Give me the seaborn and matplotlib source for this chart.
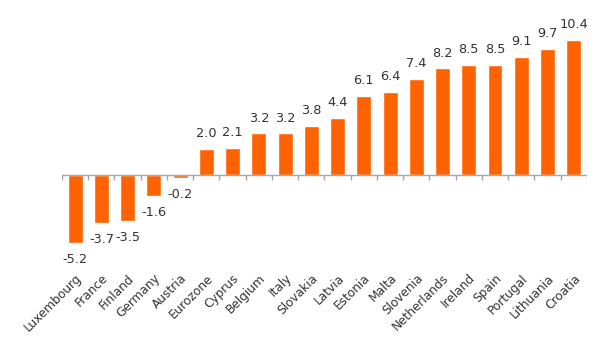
import matplotlib
matplotlib.use("Agg")
import matplotlib.pyplot as plt
import seaborn as sns
import numpy as np
import pandas as pd

countries = ["Luxembourg", "France", "Finland", "Germany", "Austria", "Eurozone",
             "Cyprus", "Belgium", "Italy", "Slovakia", "Latvia", "Estonia", "Malta",
             "Slovenia", "Netherlands", "Ireland", "Spain", "Portugal", "Lithuania",
             "Croatia"]
values = [-5.2, -3.7, -3.5, -1.6, -0.2, 2.0, 2.1, 3.2, 3.2, 3.8, 4.4, 6.1, 6.4,
          7.4, 8.2, 8.5, 8.5, 9.1, 9.7, 10.4]

sns.set_theme(style="white")
plt.rcParams['font.family'] = ['DejaVu Sans']

df = pd.DataFrame({"country": countries, "value": values})

fig = plt.figure(figsize=(6.05, 3.46), dpi=100)
ax = fig.add_axes([0.1025, 0.231, 0.8675, 0.695])

sns.barplot(data=df, x="country", y="value", color="#FF6200", saturation=1,
            width=0.57, ax=ax)

ax.set_xlim(-0.5, len(countries) - 0.5)
ax.set_ylim(-7, 11.5)
for s in ax.spines.values():
    s.set_visible(False)
ax.set_yticks([])
ax.set_xlabel("")
ax.set_ylabel("")

ax.axhline(0, color="#A6A6A6", lw=1.0, zorder=3)
ax.vlines(np.arange(-0.5, len(countries)), -0.35, 0, color="#A6A6A6", lw=1.0, zorder=3)

ax.tick_params(axis="x", length=0, pad=4)
ax.set_xticks(range(len(countries)))
ax.set_xticklabels(countries, rotation=45, ha="right", rotation_mode="anchor",
                   fontsize=8.7, color="#333333")

for i, v in enumerate(values):
    off = 11 if v >= 0 else -12
    ax.annotate(f"{v:.1f}", (i, v), xytext=(0, off), textcoords="offset points",
                ha="center", va="center", fontsize=9.3, color="#333333",
                annotation_clip=False)

fig.savefig("out.png", dpi=100)
